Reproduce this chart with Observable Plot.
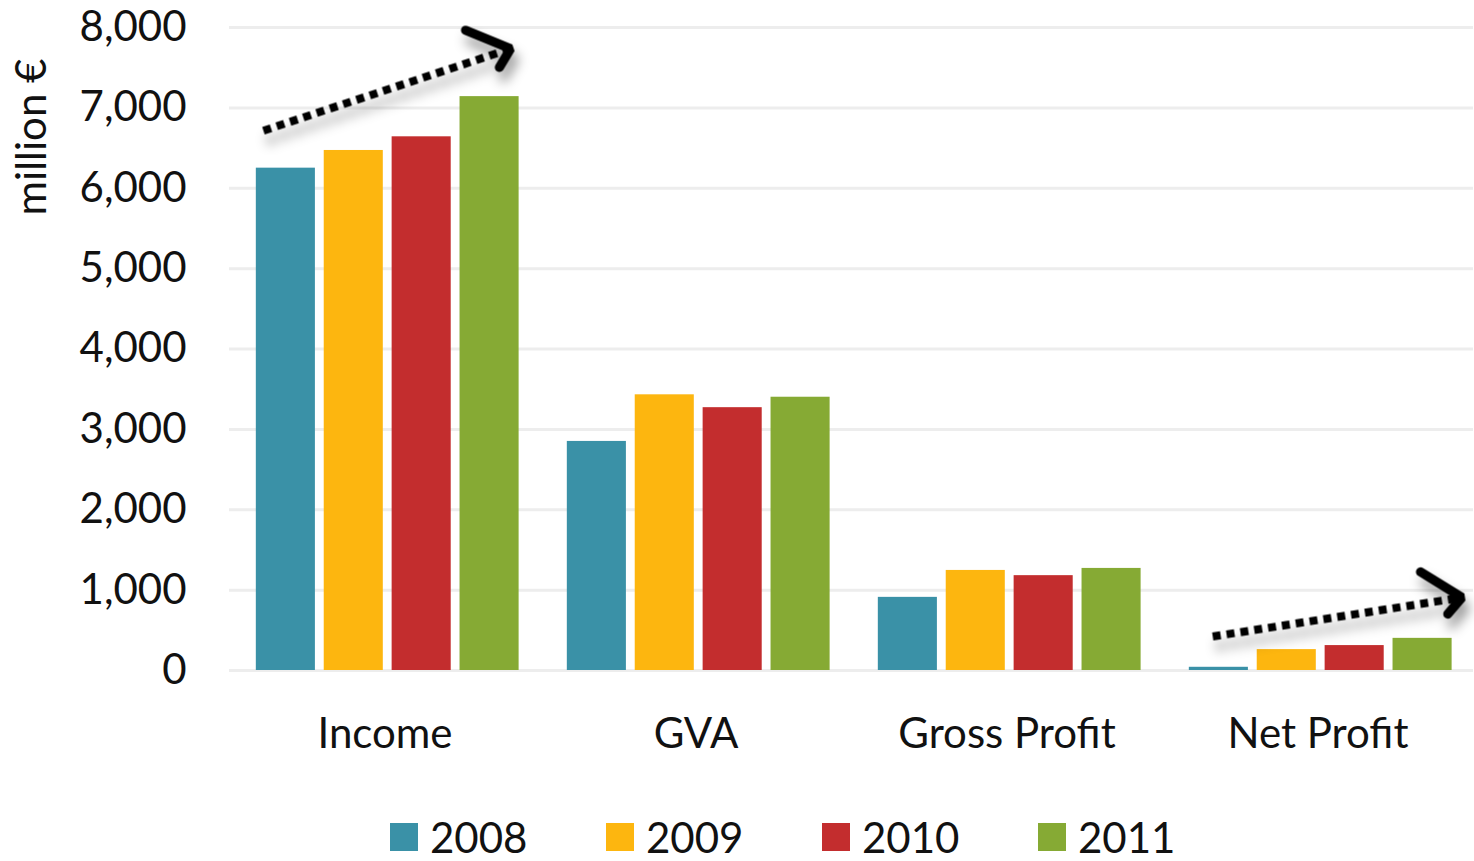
<!DOCTYPE html>
<html>
<head>
<meta charset="utf-8">
<script src="https://cdn.jsdelivr.net/npm/d3@7"></script>
<script src="https://cdn.jsdelivr.net/npm/@observablehq/plot@0.6"></script>
<style>
  body { margin: 0; background: #fff; font-family: Lato, "Open Sans", sans-serif; color: #111; }
  #wrap { position: relative; width: 1474px; height: 861px; overflow: hidden; }
  #ylabel { position: absolute; left: 30px; top: 137px; transform: translate(-50%, -50%) rotate(-90deg); white-space: nowrap; font-size: 42px; line-height: 44px; }
  #legend { position: absolute; left: 390px; top: 816px; display: flex; }
  .item { width: 216px; display: flex; align-items: center; gap: 12px; font-size: 42px; line-height: 42px; height: 42px; }
  .sw { width: 28px; height: 28px; }
</style>
</head>
<body>
<div id="wrap">
  <div id="chart"></div>
  <div id="ylabel">million €</div>
  <div id="legend"></div>
</div>
<script>
// ---- data ----
const categories = ["Income", "GVA", "Gross Profit", "Net Profit"];
const years = [2008, 2009, 2010, 2011];
const colors = ["#3a91a7", "#fdb60f", "#c32d2e", "#86aa34"];
const values2008 = [6250, 2850, 910, 40];
const values2009 = [6470, 3430, 1245, 260];
const values2010 = [6640, 3270, 1180, 310];
const values2011 = [7140, 3400, 1270, 400];
const yTicks = [0, 1000, 2000, 3000, 4000, 5000, 6000, 7000, 8000];
const yLabel = "million €";

// trend-arrow annotations (data units)
const arrowCategory = ["Income", "Net Profit"];
const arrowYearStart = [2007.67, 2007.91];
const arrowYearEnd = [2011.31, 2011.58];
const arrowValueStart = [6716, 423];
const arrowValueEnd = [7736, 908];

const series = [values2008, values2009, values2010, values2011];
const data = [];
categories.forEach((c, i) => years.forEach((y, j) => data.push({category: c, year: y, value: series[j][i]})));
const arrows = arrowCategory.map((c, i) => ({category: c, x1: arrowYearStart[i], x2: arrowYearEnd[i], y1: arrowValueStart[i], y2: arrowValueEnd[i]}));

const half = 0.435;
const plot = Plot.plot({
  width: 1474,
  height: 805,
  marginLeft: 228,
  marginRight: 0,
  marginTop: 27,
  marginBottom: 135,
  style: {fontFamily: "Lato, 'Open Sans', sans-serif", fontSize: "42px", color: "#111", background: "#fff", overflow: "visible"},
  fx: {domain: categories, padding: 0, tickSize: 0, tickPadding: 48, label: null},
  x: {domain: [2007.17, 2011.75], axis: null},
  y: {domain: [0, 8000], ticks: yTicks, tickFormat: d3.format(","), tickSize: 0, tickPadding: 43, label: null},
  color: {domain: years, range: colors},
  marks: [
    Plot.ruleY(yTicks, {stroke: "#ededed", strokeWidth: 3}),
    Plot.rect(data, {fx: "category", x1: d => d.year - half, x2: d => d.year + half, y1: 0, y2: "value", fill: "year"}),
    Plot.link(arrows, {fx: "category", x1: "x1", y1: "y1", x2: "x2", y2: "y2", stroke: "#000", strokeWidth: 8, strokeDasharray: "8,6", markerEnd: "arrow"})
  ]
});
document.getElementById("chart").appendChild(plot);

// shadow + larger arrowheads
const svg = d3.select(plot);
const defs = svg.insert("defs", ":first-child");
defs.append("filter").attr("id", "shadow").attr("x", "-20%").attr("y", "-60%").attr("width", "140%").attr("height", "280%")
  .append("feDropShadow").attr("dx", 4).attr("dy", 10).attr("stdDeviation", 6).attr("flood-color", "#000").attr("flood-opacity", 0.4);
svg.selectAll("g[aria-label='link']").attr("filter", "url(#shadow)");
svg.selectAll("marker").attr("markerWidth", 11).attr("markerHeight", 11).attr("markerUnits", "strokeWidth")
  .selectAll("path").attr("d", "M-4.2,-3.6L0,0L-4.2,3.6").attr("stroke-width", 1.05).attr("stroke-linecap", "round").attr("stroke-linejoin", "miter");

// legend
const legend = d3.select("#legend");
years.forEach((y, i) => {
  const it = legend.append("div").attr("class", "item");
  it.append("div").attr("class", "sw").style("background", colors[i]);
  it.append("span").text(y);
});
</script>
</body>
</html>
